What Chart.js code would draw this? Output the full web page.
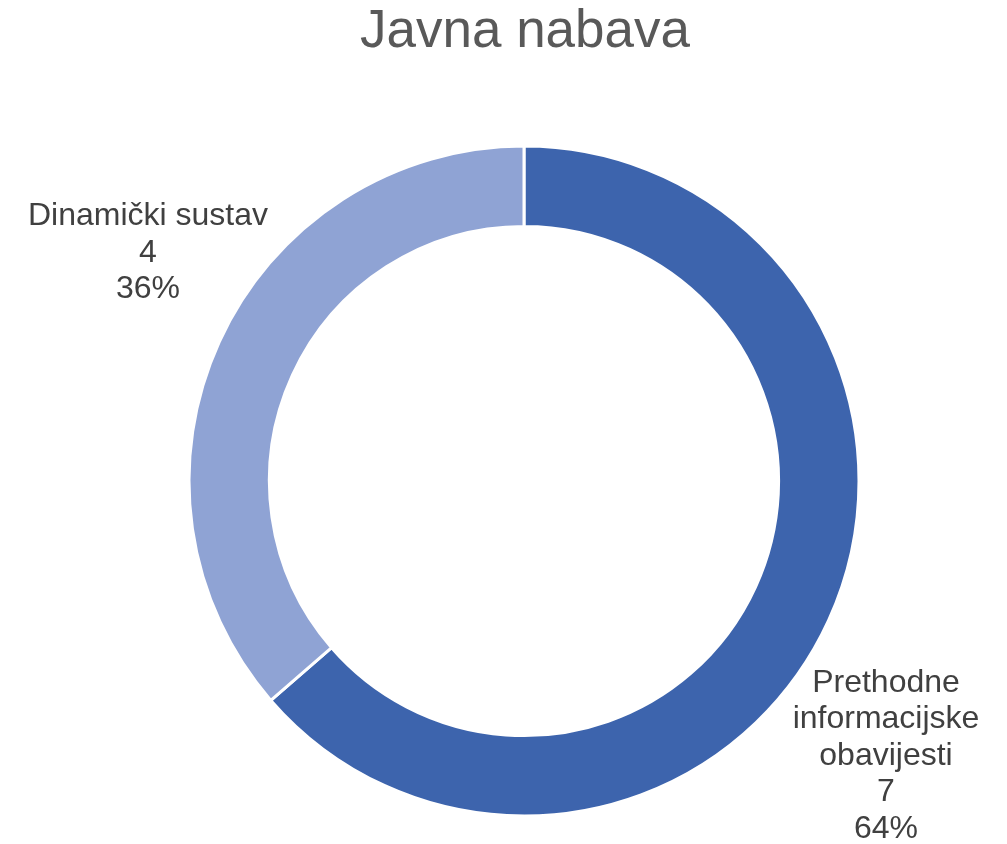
<!DOCTYPE html>
<html>
<head>
<meta charset="utf-8">
<script src="https://cdn.jsdelivr.net/npm/chart.js@4"></script>
<style>
html,body{margin:0;padding:0;background:#fff;}
#wrap{width:1007px;height:844px;position:relative;}
</style>
</head>
<body>
<div id="wrap"><canvas id="c" width="1007" height="844"></canvas></div>
<script>
const chartTitle = "Javna nabava";
const categories = ["Prethodne informacijske obavijesti", "Dinamički sustav"];
const labelLines = [["Prethodne", "informacijske", "obavijesti"], ["Dinamički sustav"]];
const values = [7, 4];
const colors = ["#3D64AD", "#8FA3D4"];

const total = values.reduce((a, b) => a + b, 0);
// label block offsets from chart centre (layout only)
const labelOffsets = [[362, 275], [-376, -228]];

const labelPlugin = {
  id: 'sliceLabels',
  afterDraw(chart) {
    const ctx = chart.ctx;
    const meta = chart.getDatasetMeta(0);
    ctx.save();
    ctx.fillStyle = '#595959';
    ctx.font = '53px "Liberation Sans", Arial, sans-serif';
    ctx.textAlign = 'center';
    ctx.textBaseline = 'middle';
    ctx.fillText(chartTitle, 525, 32);
    ctx.fillStyle = '#404040';
    ctx.font = '32px "Liberation Sans", Arial, sans-serif';
    meta.data.forEach((arc, i) => {
      const lines = labelLines[i].concat([String(values[i]), Math.round(values[i] / total * 100) + '%']);
      const cx = arc.x + labelOffsets[i][0];
      const cy = arc.y + labelOffsets[i][1];
      const lh = 36.5;
      const startY = cy - (lines.length - 1) * lh / 2;
      lines.forEach((t, j) => ctx.fillText(t, cx, startY + j * lh));
    });
    ctx.restore();
  }
};

new Chart(document.getElementById('c'), {
  type: 'doughnut',
  data: {
    labels: categories,
    datasets: [{
      data: values,
      backgroundColor: colors,
      borderColor: '#ffffff',
      borderWidth: 3,
      hoverOffset: 0
    }]
  },
  options: {
    responsive: false,
    animation: false,
    cutout: '76%',
    layout: { padding: { top: 144.5, bottom: 26.5, left: 41, right: 0 } },
    plugins: {
      legend: { display: false },
      title: { display: false },
      tooltip: { enabled: false }
    }
  },
  plugins: [labelPlugin]
});
</script>
</body>
</html>
